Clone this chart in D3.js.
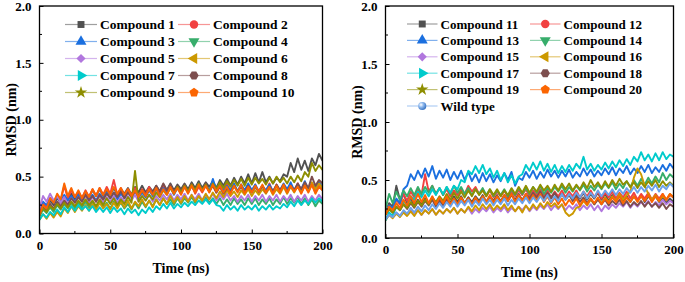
<!DOCTYPE html>
<html>
<head>
<meta charset="utf-8">
<script src="https://cdn.jsdelivr.net/npm/d3@7"></script>
<style>
  body { margin: 0; background: #fff; }
  svg { display: block; }
</style>
</head>
<body>
<svg id="chart" width="685" height="282" font-family="Liberation Serif" font-weight="bold"></svg>
<script>
// sampling grid (ns), one value every 2.5 ns
const time = d3.range(0, 200.01, 2.5);
const xTicks = [0, 50, 100, 150, 200];
const xMinor = [25, 75, 125, 175];
const yTicks = [0, 0.5, 1.0, 1.5, 2.0];
const yMinor = [0.25, 0.75, 1.25, 1.75];

const palette = ["#515151", "#F14040", "#1A6FDF", "#37AD6B", "#B177DE", "#CC9900", "#00CBCC", "#7D4E4E", "#8E8E00", "#FB6501", "#6CA2EA"];
const shapes = ["square", "circle", "triUp", "triDown", "diamond", "triLeft", "triRight", "hexagon", "star", "pentagon", "ball"];

const leftNames = ["Compound 1", "Compound 2", "Compound 3", "Compound 4", "Compound 5", "Compound 6", "Compound 7", "Compound 8", "Compound 9", "Compound 10"];
const rightNames = ["Compound 11", "Compound 12", "Compound 13", "Compound 14", "Compound 15", "Compound 16", "Compound 17", "Compound 18", "Compound 19", "Compound 20", "Wild type"];

// RMSD (nm), left panel
const c1 = [.18,.26,.22,.29,.25,.31,.27,.33,.29,.35, .30,.36,.31,.37,.32,.38,.33,.39,.33,.38, .34,.40,.34,.39,.35,.40,.34,.41,.36,.42, .36,.41,.37,.42,.37,.43,.38,.44,.38,.43, .39,.44,.39,.45,.40,.46,.40,.45,.41,.46, .40,.47,.42,.48,.42,.49,.43,.50,.44,.52, .44,.53,.45,.54,.45,.50,.44,.49,.46,.52, .50,.62,.54,.66,.56,.64,.55,.66,.60,.70, .64];
const c2 = [.20,.27,.24,.31,.27,.34,.29,.42,.31,.38, .32,.37,.31,.38,.32,.39,.33,.40,.34,.41, .35,.47,.34,.40,.33,.39,.34,.40,.33,.39, .34,.41,.35,.40,.34,.41,.35,.42,.36,.41, .35,.42,.36,.43,.35,.41,.36,.42,.37,.43, .36,.42,.37,.44,.36,.42,.37,.43,.36,.42, .37,.43,.36,.42,.37,.44,.36,.43,.37,.42, .36,.43,.37,.44,.36,.42,.37,.43,.36,.42, .38];
const c3 = [.22,.28,.25,.31,.27,.33,.28,.34,.29,.33, .28,.34,.29,.35,.30,.34,.29,.35,.30,.36, .31,.36,.30,.35,.31,.37,.32,.38,.31,.36, .32,.38,.33,.39,.34,.40,.35,.41,.34,.40, .35,.41,.36,.42,.37,.44,.38,.43,.37,.48, .38,.43,.37,.42,.38,.44,.37,.43,.38,.44, .38,.43,.37,.42,.38,.43,.37,.42,.38,.44, .39,.45,.38,.43,.39,.46,.38,.44,.40,.45, .41];
const c4 = [.15,.21,.18,.23,.19,.25,.21,.26,.22,.27, .22,.27,.23,.28,.23,.27,.22,.28,.23,.27, .22,.28,.23,.27,.22,.26,.21,.27,.22,.28, .23,.29,.24,.30,.25,.31,.26,.30,.25,.31, .26,.31,.27,.32,.27,.33,.28,.32,.27,.31, .26,.31,.25,.30,.25,.31,.26,.30,.25,.31, .26,.31,.25,.30,.26,.31,.25,.30,.26,.32, .26,.31,.27,.32,.26,.31,.25,.30,.24,.29, .26];
const c5 = [.22,.33,.28,.35,.29,.33,.27,.32,.26,.31, .27,.32,.28,.33,.27,.32,.28,.33,.27,.32, .28,.33,.27,.32,.28,.33,.29,.34,.28,.33, .29,.34,.28,.33,.29,.34,.30,.35,.29,.34, .30,.35,.29,.34,.30,.35,.29,.34,.30,.35, .29,.34,.30,.35,.29,.33,.28,.33,.29,.34, .28,.33,.29,.34,.28,.33,.29,.34,.28,.33, .29,.34,.28,.33,.29,.34,.28,.33,.29,.34, .30];
const c6 = [.12,.17,.13,.18,.14,.19,.15,.22,.18,.24, .19,.24,.20,.25,.20,.26,.21,.27,.22,.26, .21,.27,.22,.28,.23,.29,.22,.28,.24,.30, .24,.29,.23,.30,.25,.31,.26,.33,.27,.32, .27,.33,.28,.34,.28,.33,.29,.35,.30,.36, .31,.37,.32,.38,.33,.37,.32,.38,.34,.39, .33,.38,.34,.39,.35,.40,.34,.39,.35,.41, .35,.41,.36,.42,.37,.43,.38,.45,.39,.44, .40];
const c7 = [.12,.17,.14,.19,.16,.21,.17,.23,.19,.24, .20,.25,.21,.24,.20,.24,.19,.23,.19,.23, .18,.23,.19,.22,.17,.22,.18,.21,.16,.21, .18,.23,.19,.24,.21,.26,.22,.27,.22,.26, .23,.27,.24,.28,.25,.29,.26,.30,.26,.30, .25,.24,.20,.25,.21,.24,.20,.25,.21,.24, .21,.25,.20,.24,.21,.25,.21,.24,.22,.26, .23,.28,.24,.29,.25,.29,.26,.31,.27,.31, .28];
const c8 = [.18,.23,.20,.26,.22,.28,.24,.29,.25,.31, .27,.32,.28,.34,.29,.33,.28,.34,.30,.35, .31,.36,.32,.37,.31,.36,.32,.37,.33,.38, .33,.39,.35,.42,.37,.44,.38,.43,.36,.42, .37,.43,.36,.42,.37,.43,.38,.44,.37,.42, .36,.41,.35,.40,.36,.42,.37,.41,.36,.42, .36,.41,.37,.42,.36,.41,.37,.43,.38,.43, .37,.42,.38,.44,.39,.45,.40,.50,.42,.47, .44];
const c9 = [.17,.22,.19,.24,.21,.26,.22,.27,.23,.28, .24,.29,.25,.30,.25,.29,.24,.30,.25,.31, .26,.31,.25,.30,.26,.32,.27,.55,.28,.33, .29,.34,.30,.36,.32,.38,.34,.40,.35,.41, .36,.42,.37,.43,.38,.44,.38,.43,.37,.44, .39,.45,.40,.46,.41,.47,.42,.48,.42,.49, .43,.49,.44,.48,.43,.49,.44,.50,.45,.49, .44,.50,.45,.51,.46,.54,.50,.62,.55,.60, .56];
const c10 = [.16,.25,.22,.31,.27,.35,.30,.44,.33,.40, .32,.38,.31,.37,.32,.39,.33,.40,.34,.39, .34,.41,.35,.40,.34,.39,.33,.38,.32,.38, .33,.39,.34,.40,.33,.39,.34,.41,.35,.40, .34,.41,.35,.42,.36,.43,.37,.42,.36,.43, .37,.42,.36,.41,.35,.42,.36,.43,.35,.41, .36,.42,.37,.43,.36,.41,.35,.42,.36,.43, .36,.42,.37,.41,.35,.42,.36,.43,.35,.41, .38];

// RMSD (nm), right panel
const c11 = [.22,.30,.27,.45,.33,.38,.30,.34,.28,.33, .29,.34,.30,.35,.30,.34,.29,.35,.30,.36, .31,.36,.30,.35,.31,.36,.32,.37,.31,.36, .32,.37,.31,.36,.32,.37,.33,.38,.32,.37, .33,.38,.32,.37,.33,.38,.34,.39,.33,.38, .34,.39,.33,.38,.34,.39,.33,.38,.34,.39, .33,.38,.32,.37,.33,.38,.32,.36,.31,.36, .32,.37,.31,.36,.32,.36,.31,.35,.30,.34, .31];
const c12 = [.22,.28,.25,.33,.29,.38,.32,.40,.35,.42, .37,.55,.40,.45,.38,.43,.37,.42,.36,.41, .37,.42,.38,.45,.40,.44,.38,.42,.36,.41, .35,.40,.36,.41,.35,.40,.36,.41,.37,.42, .36,.41,.37,.42,.36,.41,.35,.40,.36,.41, .35,.40,.36,.41,.35,.40,.36,.41,.35,.40, .34,.39,.35,.40,.34,.39,.35,.40,.34,.39, .33,.38,.34,.39,.33,.38,.34,.38,.33,.37, .35];
const c13 = [.20,.28,.26,.34,.30,.42,.45,.55,.50,.58, .52,.60,.53,.62,.51,.58,.52,.59,.50,.57, .51,.58,.50,.57,.49,.55,.48,.56,.49,.55, .48,.54,.49,.56,.50,.57,.45,.52,.50,.57, .52,.58,.51,.57,.52,.59,.53,.58,.52,.58, .53,.59,.52,.57,.53,.60,.54,.59,.53,.58, .54,.60,.55,.61,.54,.60,.56,.62,.55,.60, .56,.62,.57,.63,.56,.61,.57,.63,.58,.64, .60];
const c14 = [.25,.38,.30,.40,.33,.41,.36,.43,.37,.44, .38,.44,.39,.45,.38,.43,.37,.44,.38,.45, .39,.44,.38,.43,.37,.42,.38,.43,.37,.42, .36,.41,.37,.42,.36,.42,.37,.43,.38,.43, .38,.44,.39,.45,.38,.43,.39,.44,.40,.45, .39,.44,.40,.45,.41,.46,.40,.45,.41,.46, .42,.47,.43,.48,.42,.47,.43,.49,.44,.50, .45,.51,.46,.52,.47,.53,.48,.56,.50,.55, .52];
const c15 = [.16,.20,.18,.22,.19,.23,.20,.24,.21,.24, .20,.24,.21,.25,.20,.24,.21,.25,.22,.26, .21,.25,.22,.26,.21,.25,.22,.26,.23,.27, .22,.26,.23,.27,.22,.26,.23,.27,.24,.28, .23,.27,.24,.28,.25,.29,.24,.28,.25,.29, .24,.28,.25,.29,.24,.28,.25,.29,.24,.28, .23,.28,.25,.29,.26,.30,.27,.31,.26,.30, .27,.31,.28,.32,.27,.31,.28,.33,.29,.32, .30];
const c16 = [.15,.20,.17,.21,.18,.22,.19,.23,.19,.24, .20,.24,.21,.25,.20,.24,.21,.25,.22,.26, .21,.25,.22,.27,.23,.28,.24,.29,.25,.29, .24,.28,.25,.29,.24,.28,.23,.27,.22,.28, .24,.29,.25,.30,.26,.31,.27,.30,.26,.29, .22,.19,.21,.26,.27,.32,.28,.33,.29,.34, .30,.35,.31,.36,.32,.38,.33,.37,.40,.52, .60,.55,.45,.38,.33,.37,.32,.36,.33,.38, .35];
const c17 = [.15,.22,.19,.27,.24,.32,.28,.36,.33,.40, .35,.41,.36,.42,.37,.43,.38,.44,.39,.45, .42,.50,.48,.58,.55,.62,.56,.63,.55,.60, .52,.58,.50,.56,.48,.54,.47,.53,.55,.63, .58,.65,.59,.66,.58,.64,.57,.63,.56,.62, .57,.63,.58,.64,.60,.70,.59,.64,.58,.63, .59,.65,.60,.66,.61,.67,.62,.68,.63,.70, .66,.74,.67,.72,.66,.73,.67,.74,.68,.72, .70];
const c18 = [.20,.25,.22,.27,.24,.29,.25,.30,.26,.31, .27,.32,.28,.33,.27,.32,.28,.33,.29,.34, .29,.34,.30,.35,.29,.34,.30,.35,.31,.36, .31,.36,.32,.37,.33,.38,.32,.37,.33,.38, .34,.39,.35,.40,.34,.39,.35,.39,.34,.38, .33,.37,.32,.36,.31,.35,.30,.34,.29,.33, .29,.33,.28,.32,.29,.33,.28,.32,.27,.31, .28,.32,.27,.31,.27,.30,.26,.30,.25,.29, .27];
const c19 = [.20,.25,.22,.27,.24,.29,.26,.31,.27,.32, .28,.33,.29,.35,.31,.36,.32,.38,.33,.39, .34,.40,.35,.41,.36,.42,.37,.41,.36,.42, .37,.42,.36,.41,.37,.43,.38,.44,.39,.45, .39,.44,.40,.46,.41,.45,.40,.46,.41,.47, .42,.47,.41,.46,.42,.48,.43,.50,.44,.48, .43,.49,.44,.50,.45,.51,.46,.49,.44,.48, .43,.48,.44,.49,.45,.50,.44,.49,.45,.48, .45];
const c20 = [.20,.27,.24,.30,.26,.33,.28,.36,.30,.38, .31,.37,.30,.36,.29,.35,.30,.36,.29,.34, .29,.35,.30,.34,.29,.35,.30,.36,.31,.37, .30,.36,.31,.37,.32,.38,.31,.37,.32,.38, .31,.37,.32,.38,.31,.36,.30,.35,.29,.34, .28,.33,.29,.34,.28,.33,.29,.34,.30,.35, .29,.34,.30,.35,.31,.36,.30,.35,.31,.36, .31,.36,.32,.37,.31,.36,.32,.38,.33,.38, .35];
const wildType = [.16,.20,.18,.22,.19,.24,.21,.26,.22,.27, .23,.28,.24,.29,.25,.30,.26,.31,.27,.32, .27,.32,.28,.33,.27,.32,.28,.34,.29,.33, .28,.33,.29,.34,.28,.33,.29,.34,.30,.35, .30,.35,.31,.36,.32,.37,.31,.36,.32,.38, .33,.38,.34,.39,.35,.40,.34,.39,.35,.41, .36,.41,.37,.42,.37,.42,.38,.43,.39,.44, .39,.44,.40,.45,.41,.46,.40,.45,.42,.47, .44];

const leftSeries = [c1, c2, c3, c4, c5, c6, c7, c8, c9, c10];
const rightSeries = [c11, c12, c13, c14, c15, c16, c17, c18, c19, c20, wildType];

const FONT = "Liberation Serif";
const svg = d3.select("#chart");

// ball gradient for the wild type marker
const defs = svg.append("defs");
const grad = defs.append("radialGradient")
    .attr("id", "ball")
    .attr("cx", "35%").attr("cy", "35%").attr("r", "65%");
grad.append("stop").attr("offset", "0%").attr("stop-color", "#ffffff");
grad.append("stop").attr("offset", "45%").attr("stop-color", "#8fb9ee");
grad.append("stop").attr("offset", "100%").attr("stop-color", "#3f78c4");

const polygon = (n, r, rot) => {
  const pts = d3.range(n).map(k => {
    const a = rot + k * 2 * Math.PI / n;
    return [r * Math.sin(a), -r * Math.cos(a)];
  });
  return "M" + pts.map(p => p.join(",")).join("L") + "Z";
};

const markerPath = (shape) => {
  switch (shape) {
    case "square": return d3.symbol(d3.symbolSquare, 48)();
    case "circle": return d3.symbol(d3.symbolCircle, 56)();
    case "triUp":
    case "triDown":
    case "triLeft":
    case "triRight": return d3.symbol(d3.symbolTriangle, 52)();
    case "diamond": return d3.symbol(d3.symbolSquare, 42)();
    case "hexagon": return polygon(6, 4.6, Math.PI / 6);
    case "star": return d3.symbol(d3.symbolStar, 48)();
    case "pentagon": return polygon(5, 4.8, 0);
    default: return d3.symbol(d3.symbolCircle, 52)();
  }
};
const markerRot = {triDown: 180, diamond: 45, triLeft: -90, triRight: 90};

function drawPanel(cfg) {
  const {left, right, top, bottom, names, series, legend} = cfg;

  const x = d3.scaleLinear().domain([0, 200]).range([left, right]);
  const y = d3.scaleLinear().domain([0, 2]).range([bottom, top]);

  const g = svg.append("g");
  const clipId = "clip" + cfg.id;
  defs.append("clipPath").attr("id", clipId)
    .append("rect")
      .attr("x", left).attr("y", top)
      .attr("width", right - left).attr("height", bottom - top);

  // Data lines
  const line = d3.line()
    .x((d, i) => x(time[i]))
    .y(d => y(d));

  g.append("g")
      .attr("clip-path", `url(#${clipId})`)
    .selectAll("path")
    .data(series)
    .join("path")
      .attr("d", d => line(d))
      .attr("fill", "none")
      .attr("stroke", (d, i) => palette[i])
      .attr("stroke-width", 1.9)
      .attr("stroke-linejoin", "round");

  // Axes with inward ticks
  const bottomAxis = d3.axisBottom(x).tickValues(xTicks).tickSizeInner(-4).tickSizeOuter(0).tickPadding(7).tickFormat(d3.format("d"));
  const xa = g.append("g")
      .attr("transform", `translate(0, ${bottom})`)
      .call(bottomAxis);
  xa.append("g").selectAll("line").data(xMinor).join("line")
      .attr("x1", d => x(d)).attr("x2", d => x(d))
      .attr("y1", 0).attr("y2", -2.5)
      .attr("stroke", "#000");

  const leftAxis = d3.axisLeft(y).tickValues(yTicks).tickSizeInner(-4).tickSizeOuter(0).tickPadding(8).tickFormat(d3.format(".1f"));
  const ya = g.append("g")
      .attr("transform", `translate(${left}, 0)`)
      .call(leftAxis);
  ya.append("g").selectAll("line").data(yMinor).join("line")
      .attr("y1", d => y(d)).attr("y2", d => y(d))
      .attr("x1", 0).attr("x2", 2.5)
      .attr("stroke", "#000");

  xa.attr("font-family", FONT).attr("font-size", 13).attr("font-weight", "bold");
  ya.attr("font-family", FONT).attr("font-size", 13).attr("font-weight", "bold");
  g.selectAll(".domain").remove();
  g.selectAll(".tick line").attr("stroke", "#000");
  g.selectAll(".tick text").attr("fill", "#000");

  // Frame
  g.append("rect")
      .attr("x", left).attr("y", top)
      .attr("width", right - left).attr("height", bottom - top)
      .attr("fill", "none")
      .attr("stroke", "#000")
      .attr("stroke-width", 1.3);

  // Axis titles
  g.append("text")
      .text("Time (ns)")
      .attr("x", (left + right) / 2)
      .attr("y", bottom + 39)
      .attr("text-anchor", "middle")
      .attr("font-family", FONT)
      .attr("font-size", 14);

  g.append("text")
      .text("RMSD (nm)")
      .attr("transform", `translate(${left - 24}, ${(top + bottom) / 2}) rotate(-90)`)
      .attr("text-anchor", "middle")
      .attr("font-family", FONT)
      .attr("font-size", 14);

  // Legend
  const items = g.append("g").selectAll("g")
    .data(names)
    .join("g")
      .attr("transform", (d, i) => {
        const col = i % 2;
        const row = Math.floor(i / 2);
        return `translate(${legend.colX[col]}, ${legend.y0 + row * legend.dy})`;
      });

  items.append("line")
      .attr("x1", 0).attr("x2", legend.lineLen)
      .attr("y1", 0).attr("y2", 0)
      .attr("stroke", (d, i) => palette[i])
      .attr("stroke-opacity", 0.55)
      .attr("stroke-width", 1.2);

  items.append("path")
      .attr("d", (d, i) => markerPath(shapes[i]))
      .attr("transform", (d, i) => `translate(${legend.lineLen / 2}, 0) rotate(${markerRot[shapes[i]] || 0})`)
      .attr("fill", (d, i) => shapes[i] === "ball" ? "url(#ball)" : palette[i]);

  items.append("text")
      .text(d => d)
      .attr("x", legend.lineLen + 3)
      .attr("y", 0)
      .attr("dy", "0.35em")
      .attr("font-family", FONT)
      .attr("font-size", legend.fontSize);
}

drawPanel({
  id: "L", left: 39.5, right: 322.5, top: 6, bottom: 233.5,
  names: leftNames, series: leftSeries,
  legend: {colX: [65, 178], y0: 24.5, dy: 17, lineLen: 32, fontSize: 13.5}
});

drawPanel({
  id: "R", left: 385.5, right: 673.5, top: 6, bottom: 238,
  names: rightNames, series: rightSeries,
  legend: {colX: [407, 530], y0: 24, dy: 16.4, lineLen: 30.5, fontSize: 13}
});
</script>
</body>
</html>
